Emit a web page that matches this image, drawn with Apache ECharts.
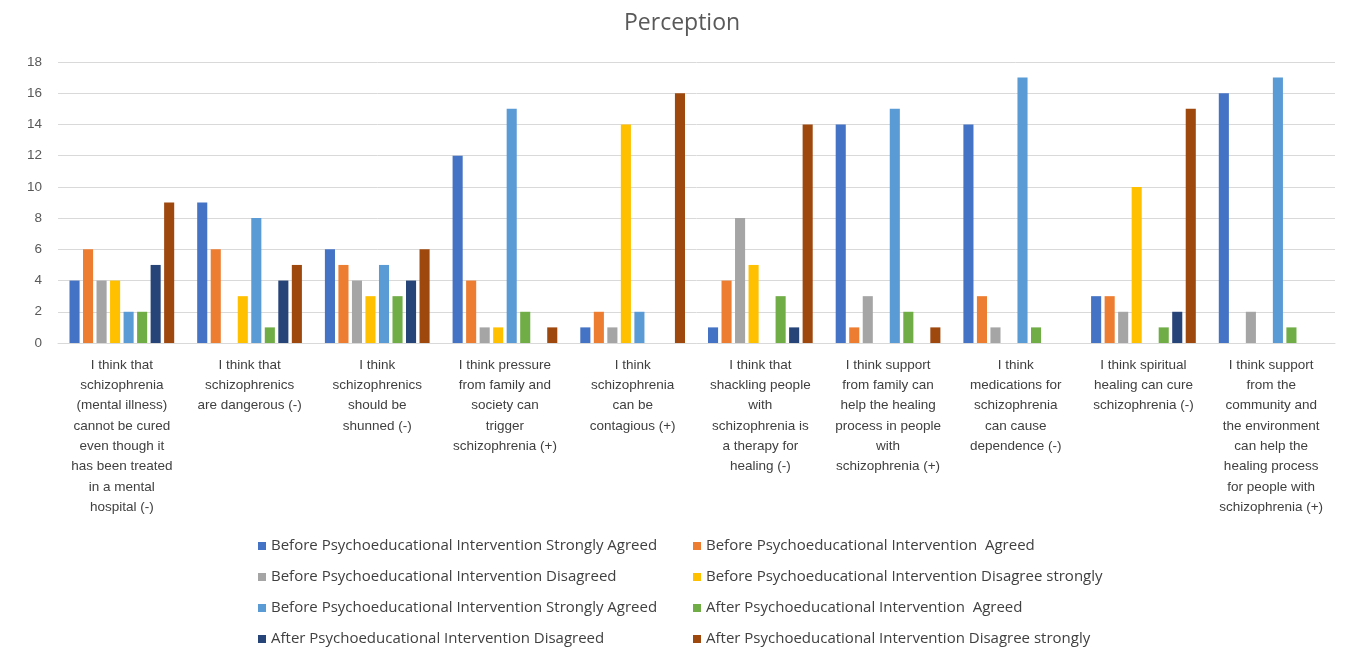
<!DOCTYPE html>
<html>
<head>
<meta charset="utf-8">
<script src="https://cdn.jsdelivr.net/npm/echarts@6/dist/echarts.min.js"></script>
<style>
  html, body { margin: 0; padding: 0; background: #fff; }
  #chart { width: 1349px; height: 652px; }
</style>
</head>
<body>
<div id="chart"></div>
<script>
// Perception statements (category axis), line breaks as shown under each group
const categories = [
  "I think that\nschizophrenia\n(mental illness)\ncannot be cured\neven though it\nhas been treated\nin a mental\nhospital (-)",
  "I think that\nschizophrenics\nare dangerous (-)",
  "I think\nschizophrenics\nshould be\nshunned (-)",
  "I think pressure\nfrom family and\nsociety can\ntrigger\nschizophrenia (+)",
  "I think\nschizophrenia\ncan be\ncontagious (+)",
  "I think that\nshackling people\nwith\nschizophrenia is\na therapy for\nhealing (-)",
  "I think support\nfrom family can\nhelp the healing\nprocess in people\nwith\nschizophrenia (+)",
  "I think\nmedications for\nschizophrenia\ncan cause\ndependence (-)",
  "I think spiritual\nhealing can cure\nschizophrenia (-)",
  "I think support\nfrom the\ncommunity and\nthe environment\ncan help the\nhealing process\nfor people with\nschizophrenia (+)"
];

// Series names (the second "Strongly Agreed" carries a trailing no-break space so the legend keeps both entries apart)
const seriesNames = [
  "Before Psychoeducational Intervention Strongly Agreed",
  "Before Psychoeducational Intervention  Agreed",
  "Before Psychoeducational Intervention Disagreed",
  "Before Psychoeducational Intervention Disagree strongly",
  "Before Psychoeducational Intervention Strongly Agreed\u00a0",
  "After Psychoeducational Intervention  Agreed",
  "After Psychoeducational Intervention Disagreed",
  "After Psychoeducational Intervention Disagree strongly"
];

// Counts per statement, one array per series
const beforeStronglyAgreed   = [4, 9, 6, 12, 1, 1, 14, 14, 3, 16];
const beforeAgreed           = [6, 6, 5, 4, 2, 4, 1, 3, 3, 0];
const beforeDisagreed        = [4, 0, 4, 1, 1, 8, 3, 1, 2, 2];
const beforeDisagreeStrongly = [4, 3, 3, 1, 14, 5, 0, 0, 10, 0];
const afterStronglyAgreed    = [2, 8, 5, 15, 2, 0, 15, 17, 0, 17];
const afterAgreed            = [2, 1, 3, 2, 0, 3, 2, 1, 1, 1];
const afterDisagreed         = [5, 4, 4, 0, 0, 1, 0, 0, 2, 0];
const afterDisagreeStrongly  = [9, 5, 6, 1, 16, 14, 1, 0, 15, 0];

const seriesValues = [
  beforeStronglyAgreed, beforeAgreed, beforeDisagreed, beforeDisagreeStrongly,
  afterStronglyAgreed, afterAgreed, afterDisagreed, afterDisagreeStrongly
];

// Y axis ticks
const yMin = 0, yMax = 18, yStep = 2;

const colors = ['#4472C4', '#ED7D31', '#A5A5A5', '#FFC000', '#5B9BD5', '#70AD47', '#264478', '#9E480E'];
const FONT = '"Liberation Sans", Arial, sans-serif';
const WIDE_FONT = '"Open Sans", "Liberation Sans", sans-serif';

const chart = echarts.init(document.getElementById('chart'), null, { renderer: 'canvas' });

const legendText = { color: '#404040', fontSize: 15, fontFamily: WIDE_FONT, lineHeight: 16 };
const legendBase = {
  orient: 'vertical', top: 538, padding: 0,
  itemWidth: 8, itemHeight: 8, itemGap: 15,
  icon: 'rect', textStyle: legendText, selectedMode: false
};

chart.setOption({
  animation: false,
  color: colors,
  title: {
    text: 'Perception',
    left: 624,
    top: 12,
    padding: 0,
    textStyle: { color: '#595959', fontSize: 23, fontWeight: 'normal', fontFamily: WIDE_FONT }
  },
  legend: [
    Object.assign({}, legendBase, {
      left: 258,
      data: [seriesNames[0], seriesNames[2], seriesNames[4], seriesNames[6]]
    }),
    Object.assign({}, legendBase, {
      left: 693,
      data: [seriesNames[1], seriesNames[3], seriesNames[5], seriesNames[7]]
    })
  ],
  grid: { left: 58, right: 14, top: 62, bottom: 309, containLabel: false },
  xAxis: {
    type: 'category',
    data: categories,
    axisLine: { show: true, lineStyle: { color: '#d9d9d9', width: 1 } },
    axisTick: { show: false },
    axisLabel: {
      interval: 0, color: '#404040', fontSize: 13.5, fontFamily: FONT,
      lineHeight: 20.3, margin: 12, align: 'center', verticalAlign: 'top'
    }
  },
  yAxis: {
    type: 'value',
    min: yMin, max: yMax, interval: yStep,
    axisLine: { show: false },
    axisTick: { show: false },
    splitLine: { lineStyle: { color: '#d9d9d9', width: 1 } },
    axisLabel: { color: '#595959', fontSize: 13.5, fontFamily: FONT, margin: 16 }
  },
  series: seriesNames.map((name, i) => ({
    name: name,
    type: 'bar',
    data: seriesValues[i],
    barGap: '34%',
    barCategoryGap: '18%',
    itemStyle: { color: colors[i] }
  }))
});
</script>
</body>
</html>
